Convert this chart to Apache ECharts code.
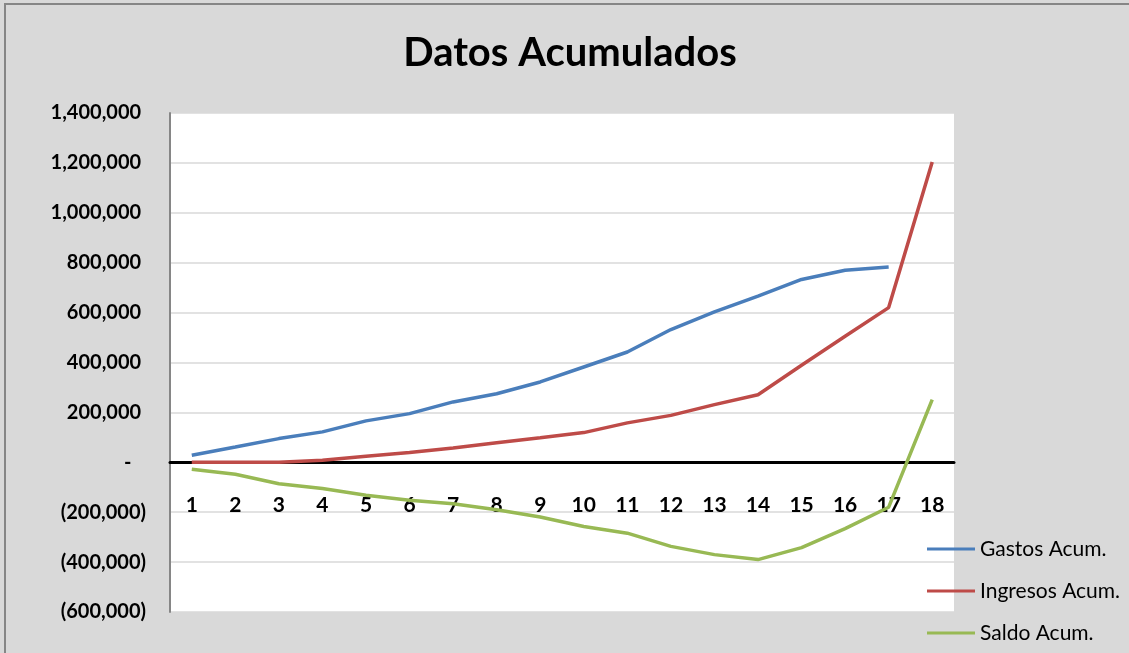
<!DOCTYPE html>
<html>
<head>
<meta charset="utf-8">
<title>Datos Acumulados</title>
<script src="https://cdn.jsdelivr.net/npm/echarts@6/dist/echarts.min.js"></script>
<style>
  html, body { margin: 0; padding: 0; background: #d9d9d9; }
  #chart { width: 1129px; height: 653px; }
</style>
</head>
<body>
<div id="chart"></div>
<script>
// periods 1..18
const periods = ['1', '2', '3', '4', '5', '6', '7', '8', '9', '10', '11', '12', '13', '14', '15', '16', '17', '18'];

// values
const gastos = [28000, 61000, 95000, 122000, 166000, 195000, 242000, 275000, 322000, 382000, 442000, 532000, 603000, 666000, 733000, 770000, 783000, null];
const ingresos = [0, 0, 0, 8000, 24000, 39000, 57000, 78000, 98000, 119000, 158000, 188000, 231000, 271000, 389000, 505000, 620000, 1204000];
const saldo = [-28000, -48000, -86000, -105000, -132000, -152000, -166000, -190000, -219000, -257000, -284000, -337000, -370000, -390000, -342000, -266000, -180000, 251000];

const seriesNames = ['Gastos Acum.', 'Ingresos Acum.', 'Saldo Acum.'];
const seriesColors = ['#4a7ebb', '#be4b48', '#98b954'];

const fontFamily = 'Lato, "Open Sans", sans-serif';

// accounting style labels like Excel: 1,400,000 / - / (200,000)
function fmtAxis(v) {
  if (v === 0) return '-   ';
  const s = Math.abs(v).toLocaleString('en-US');
  return v < 0 ? '(' + s + ')' : s + ' ';
}

const chart = echarts.init(document.getElementById('chart'));

chart.setOption({
  backgroundColor: '#d9d9d9',
  animation: false,
  title: {
    text: 'Datos Acumulados',
    left: 565,
    top: 28,
    textAlign: 'center',
    textStyle: { fontFamily, fontSize: 40, fontWeight: 'bold', color: '#000' }
  },
  graphic: [{
    type: 'rect',
    shape: { x: 5, y: 4, width: 1200, height: 700 },
    style: { fill: 'none', stroke: '#868686', lineWidth: 2 },
    silent: true
  }],
  legend: {
    orient: 'vertical',
    left: 922,
    top: 532,
    icon: 'rect',
    itemWidth: 48,
    itemHeight: 3,
    itemGap: 18,
    textStyle: { fontFamily, fontSize: 21, color: '#000', lineHeight: 24 },
    data: seriesNames
  },
  grid: {
    left: 170,
    right: 175,
    top: 113,
    bottom: 41,
    outerBoundsMode: 'none',
    containLabel: false,
    show: true,
    backgroundColor: '#ffffff',
    borderWidth: 0
  },
  xAxis: {
    type: 'category',
    data: periods,
    axisLine: { onZero: true, lineStyle: { color: '#000', width: 3 } },
    axisTick: { show: false },
    // labels sit just under the zero line, like the Excel original
    axisLabel: { margin: -117, fontFamily, fontSize: 21, fontWeight: 'bold', color: '#000' },
    splitLine: { show: false }
  },
  yAxis: {
    type: 'value',
    min: -600000,
    max: 1400000,
    interval: 200000,
    axisLine: { show: true, lineStyle: { color: '#868686', width: 2 } },
    axisTick: { show: false },
    axisLabel: { margin: 24, fontFamily, fontSize: 20, fontWeight: 'bold', color: '#000', formatter: fmtAxis },
    splitLine: { lineStyle: { color: '#d9d9d9', width: 1.5 } }
  },
  series: [gastos, ingresos, saldo].map((data, i) => ({
    name: seriesNames[i],
    type: 'line',
    data: data,
    symbol: 'none',
    smooth: false,
    color: seriesColors[i],
    lineStyle: { width: 3.5, color: seriesColors[i] },
    z: 3 + i
  }))
});
</script>
</body>
</html>
